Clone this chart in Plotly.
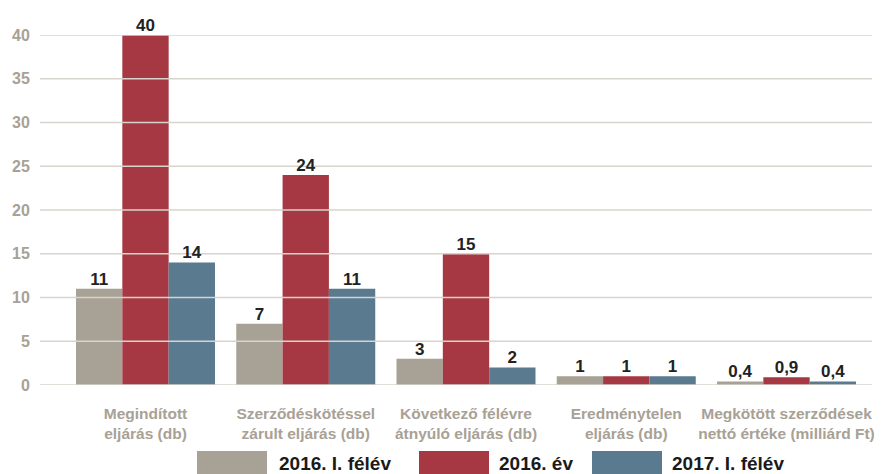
import plotly.graph_objects as go

# ---- data ----
categories = [
    "Megindított<br>eljárás (db)",
    "Szerződéskötéssel<br>zárult eljárás (db)",
    "Következő félévre<br>átnyúló eljárás (db)",
    "Eredménytelen<br>eljárás (db)",
    "Megkötött szerződések<br>nettó értéke (milliárd Ft)",
]
series_names = ["2016. I. félév", "2016. év", "2017. I. félév"]
values_2016_h1 = [11, 7, 3, 1, 0.4]
values_2016 = [40, 24, 15, 1, 0.9]
values_2017_h1 = [14, 11, 2, 1, 0.4]
y_ticks = [0, 5, 10, 15, 20, 25, 30, 35, 40]

# ---- style ----
colors = ["#a8a195", "#a63843", "#5a7b8f"]
grid_color = "#d6d4cb"
label_gray = "#a8a195"
FONT = "Liberation Sans, Arial, sans-serif"
W, H = 884, 474
ML, MR, MT, MB = 40, 12, 35, 89
PW, PH = W - ML - MR, H - MT - MB
BARGAP = 0.1326
X_RANGE = [-0.6583, 4.5335]


def fmt(v):
    if float(v).is_integer():
        return str(int(v))
    return str(v).replace(".", ",")


def px_x(x):
    return (x - ML) / PW


def px_y(y):
    return (H - MB - y) / PH


x_idx = list(range(len(categories)))
all_series = [values_2016_h1, values_2016, values_2017_h1]
n_series = len(all_series)
bar_w = (1 - BARGAP) / n_series

fig = go.Figure()
for name, vals, col in zip(series_names, all_series, colors):
    fig.add_trace(go.Bar(
        x=x_idx, y=vals, name=name,
        marker=dict(color=col, line=dict(width=0)),
        showlegend=False, hoverinfo="skip",
    ))

# gridlines (drawn above bars, below value labels)
gx, gy = [], []
for t in y_ticks:
    gx += [X_RANGE[0], X_RANGE[1], None]
    gy += [t, t, None]
fig.add_trace(go.Scatter(x=gx, y=gy, mode="lines",
                         line=dict(color=grid_color, width=1.5),
                         showlegend=False, hoverinfo="skip", cliponaxis=False))

# value labels above each bar
for k, vals in enumerate(all_series):
    offs = (k - (n_series - 1) / 2) * bar_w
    fig.add_trace(go.Scatter(
        x=[i + offs for i in x_idx], y=vals, mode="text",
        text=[fmt(v) for v in vals], textposition="top center",
        textfont=dict(family=FONT, size=17, color="#222222", weight="bold"),
        showlegend=False, hoverinfo="skip", cliponaxis=False,
    ))

shapes = []
annotations = []
# custom legend
legend_rects = [(197, 267), (419, 489), (592, 662)]
legend_text_x = [277, 497, 670]
for (x0, x1), tx, name, col in zip(legend_rects, legend_text_x, series_names, colors):
    shapes.append(dict(type="rect", xref="paper", yref="paper",
                       x0=px_x(x0), x1=px_x(x1), y0=px_y(451), y1=px_y(476),
                       fillcolor=col, line=dict(width=0), layer="above"))
    annotations.append(dict(xref="paper", yref="paper", x=px_x(tx), y=px_y(463),
                            xanchor="left", yanchor="middle", showarrow=False,
                            text=name,
                            font=dict(family=FONT, size=19, color="#1a1a1a", weight="bold")))

fig.update_layout(
    width=W, height=H,
    margin=dict(l=ML, r=MR, t=MT, b=MB, autoexpand=False),
    paper_bgcolor="white", plot_bgcolor="white",
    barmode="group", bargap=BARGAP, bargroupgap=0,
    shapes=shapes, annotations=annotations,
    xaxis=dict(
        range=X_RANGE, automargin=False, tickangle=0,
        tickmode="array", tickvals=x_idx, ticktext=categories,
        tickfont=dict(family=FONT, size=15.5, color=label_gray, weight="bold"),
        ticks="outside", ticklen=14, tickcolor="rgba(0,0,0,0)",
        showgrid=False, zeroline=False, showline=False,
    ),
    yaxis=dict(
        range=[0, 40], automargin=False,
        tickmode="array", tickvals=y_ticks, ticktext=[str(t) for t in y_ticks],
        tickfont=dict(family=FONT, size=16, color=label_gray, weight="bold"),
        showgrid=False, zeroline=False, showline=False,
        ticks="outside", ticklen=6, tickcolor="rgba(0,0,0,0)",
    ),
)

fig.write_html("out.html", post_script="document.body.style.margin='0';",
               config={"displayModeBar": False})
